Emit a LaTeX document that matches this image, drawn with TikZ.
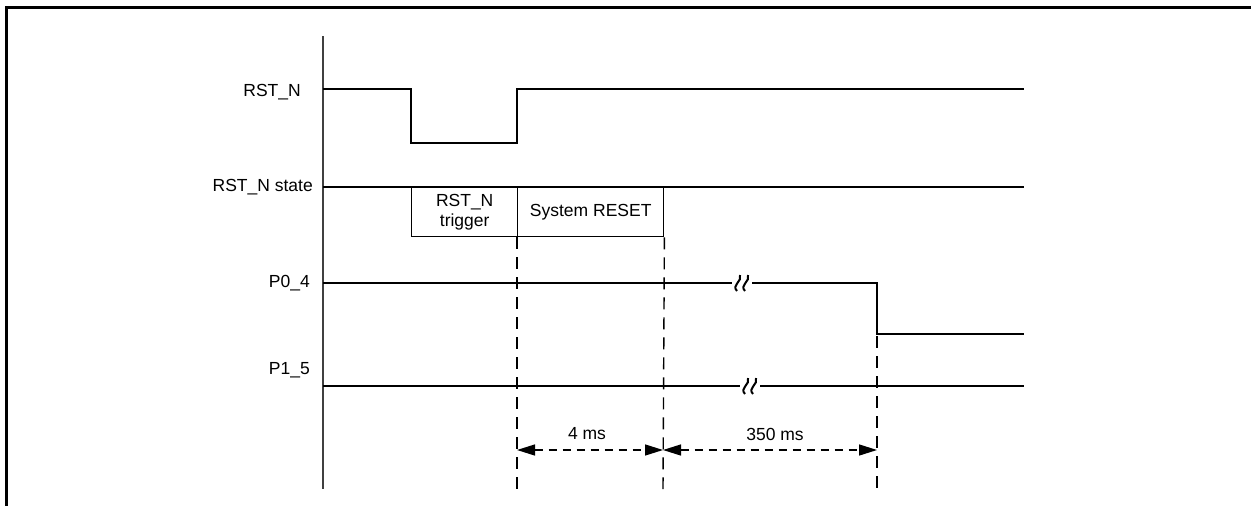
\documentclass[tikz,border=0pt]{standalone}
\usepackage{fontspec}
\setmainfont{Liberation Sans}
\usetikzlibrary{arrows.meta}
\tikzset{
  sig/.style={line width=1.4pt, line join=miter},
  axis/.style={line width=1.4pt, black!75},
  frame/.style={line width=3pt},
  lbl/.style={font=\fontsize{17.5}{20}\selectfont, inner sep=0pt},
  stbox/.style={draw, line width=1.4pt, minimum height=49pt, inner sep=0pt, align=center, font=\fontsize{17.5}{20}\selectfont},
  vdash/.style={line width=1.4pt, dash pattern=on 12pt off 8pt},
  dimarrow/.style={line width=1.4pt, dash pattern=on 8pt off 6pt, {Triangle[length=18pt,width=11pt]}-{Triangle[length=18pt,width=11pt]}},
  brk/.pic={
    \fill[white] (-10,-5) rectangle (10,5);
    \draw[line width=2pt] (-5,8) .. controls (-11,2) and (1,-2) .. (-2,-8);
    \draw[line width=2pt] (3,8) .. controls (-3,2) and (9,-2) .. (6,-8);
  }
}
\begin{document}
\begin{tikzpicture}[x=1pt,y=-1pt]
\useasboundingbox (0,0) rectangle (1251,506);
% frame (left and top edges)
\draw[frame] (6,506) -- (6,7) -- (1251,7);
% time axis
\coordinate (axtop) at (323,36);
\coordinate (axbot) at (323,489);
\draw[axis] (axtop) -- (axbot);
% labels
\node[lbl, anchor=east] (lrst) at (301,92) {RST\_N};
\node[lbl, anchor=east] (lstate) at (313,187) {RST\_N state};
\node[lbl, anchor=east] (lp04) at (310,283) {P0\_4};
\node[lbl, anchor=east] (lp15) at (310,370) {P1\_5};
% RST_N waveform
\coordinate (r0) at (323,89);
\coordinate (r1) at (411,89);
\coordinate (r2) at (411,143);
\coordinate (r3) at (517,143);
\coordinate (r4) at (517,89);
\coordinate (r5) at (1024,89);
\draw[sig] (r0) -- (r1) -- (r2) -- (r3) -- (r4) -- (r5);
% RST_N state
\coordinate (s0) at (323,187);
\coordinate (s1) at (1024,187);
\draw[sig] (s0) -- (s1);
\node[stbox, minimum width=106pt, anchor=north west] (trig) at (411,187) {RST\_N\\trigger};
\node[stbox, minimum width=146pt, anchor=north west] (sysr) at (517,187) {System RESET};
% P0_4
\coordinate (p0) at (323,283);
\coordinate (p1) at (877,283);
\coordinate (p2) at (877,334);
\coordinate (p3) at (1024,334);
\draw[sig] (p0) -- (p1) -- (p2) -- (p3);
\pic at (742,283) {brk};
% P1_5
\coordinate (q0) at (323,386);
\coordinate (q1) at (1024,386);
\draw[sig] (q0) -- (q1);
\pic at (750,386) {brk};
% dashed markers
\coordinate (d1b) at (517,489);
\coordinate (d2b) at (663,489);
\coordinate (d3t) at (877,336);
\coordinate (d3b) at (877,488);
\draw[vdash] (sysr.south west) -- (d1b);
\draw[vdash] (sysr.south east) -- (d2b);
\draw[vdash] (d3t) -- (d3b);
% dimension arrows
\coordinate (a1) at (517,450);
\coordinate (a2) at (663,450);
\coordinate (a3) at (877,450);
\draw[dimarrow] (a1) -- (a2);
\draw[dimarrow] (a2) -- (a3);
\node[lbl] (t4) at (587,434) {4 ms};
\node[lbl] (t350) at (775,434) {350 ms};
\end{tikzpicture}
\end{document}
